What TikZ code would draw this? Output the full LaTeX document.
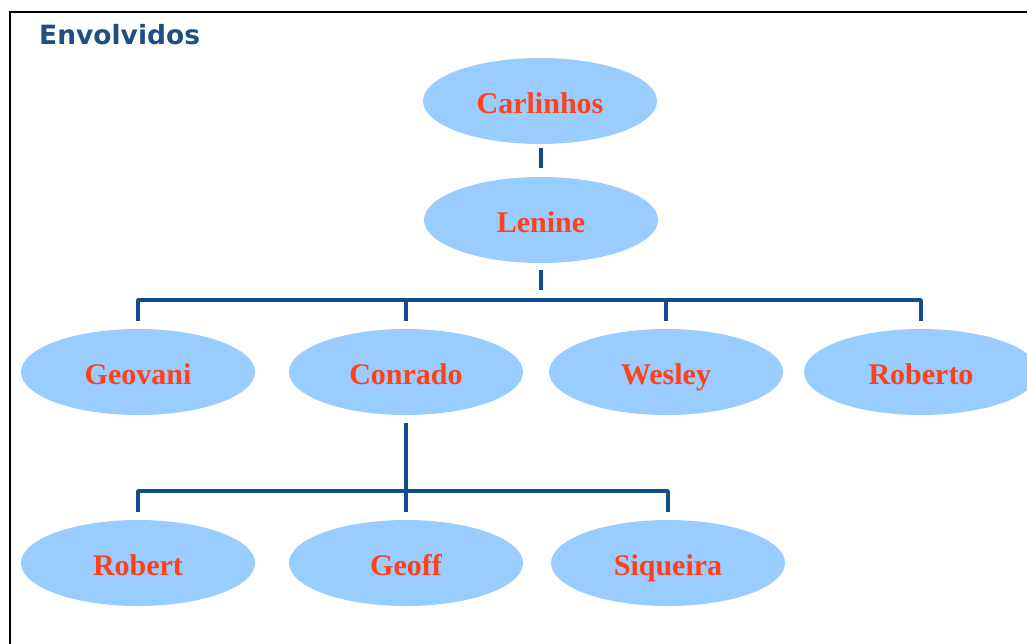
\documentclass[tikz,border=0pt]{standalone}
\usepackage{fontspec}
\setmainfont{Liberation Serif}
\newfontfamily\titlefont{DejaVu Sans Bold}
\usetikzlibrary{shapes.geometric,calc}
\definecolor{nodefill}{HTML}{99CCFF}
\definecolor{namered}{HTML}{FF4019}
\definecolor{linkblue}{HTML}{124C8C}
\definecolor{titleblue}{HTML}{1F4E80}
\begin{document}
\begin{tikzpicture}[x=1pt,y=-1pt,
  person/.style={ellipse, fill=nodefill, minimum width=234pt, minimum height=86pt,
    inner sep=0pt, text height=26pt, text depth=2pt,
    font=\bfseries\fontsize{30}{32}\selectfont, text=namered},
  link/.style={draw=linkblue, line width=3.6pt, line join=round}]
\useasboundingbox (0,0) rectangle (1027,643);
% frame
\draw[line width=2.8pt] (1045,12) -- (10,12) -- (10,660);
\node[anchor=base west, inner sep=0pt, text=titleblue,
  font=\titlefont\fontsize{26.5}{28}\selectfont] (title) at (39,44) {Envolvidos};

% people
\node[person] (carl) at (540,101) {Carlinhos};
\node[person] (len)  at (541,220) {Lenine};
\node[person] (geo)  at (138,372) {Geovani};
\node[person] (con)  at (406,372) {Conrado};
\node[person] (wes)  at (666,372) {Wesley};
\node[person] (rob)  at (921,372) {Roberto};
\node[person] (robt) at (138,563) {Robert};
\node[person] (geof) at (406,563) {Geoff};
\node[person] (siq)  at (668,563) {Siqueira};

% bus junctions
\coordinate (busA) at (541,300);
\coordinate (busB) at (406,491);

% connectors
\draw[link] ($(carl.south -| len.north)+(0,4)$) -- ($(len.north)+(0,-9)$);
\draw[link] ($(len.south)+(0,7)$) -- ($(busA)+(0,-10)$);
\draw[link] ($(geo.north)+(0,-8)$) |- (busA) -| ($(rob.north)+(0,-8)$);
\draw[link] (busA -| con.north) -- ($(con.north)+(0,-8)$);
\draw[link] (busA -| wes.north) -- ($(wes.north)+(0,-8)$);
\draw[link] ($(con.south)+(0,8)$) -- (busB);
\draw[link] ($(robt.north)+(0,-8)$) |- (busB) -| ($(siq.north)+(0,-8)$);
\draw[link] (busB) -- ($(geof.north)+(0,-8)$);
\end{tikzpicture}
\end{document}
